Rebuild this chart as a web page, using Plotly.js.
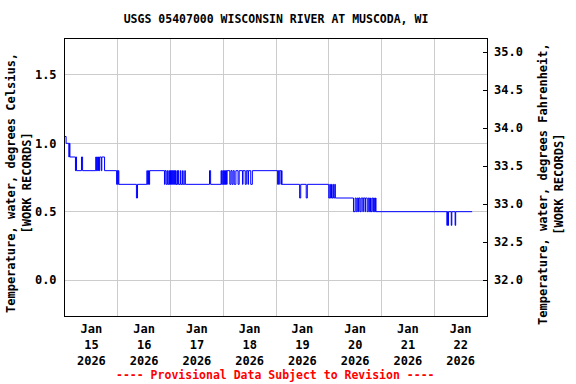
<!DOCTYPE html>
<html>
<head>
<meta charset="utf-8">
<script src="https://cdn.plot.ly/plotly-3.0.1.min.js"></script>
<style>html,body{margin:0;padding:0;background:#fff;}#chart{width:576px;height:384px;}</style>
</head>
<body>
<div id="chart"></div>
<script>
// Time of each change in reading (step series, 15-minute record)
const times = [
'2026-01-15 00:00','2026-01-15 00:30','2026-01-15 01:45','2026-01-15 02:00','2026-01-15 02:15',
'2026-01-15 04:45','2026-01-15 05:00','2026-01-15 05:15','2026-01-15 07:30','2026-01-15 08:00',
'2026-01-15 14:00','2026-01-15 14:15','2026-01-15 14:30','2026-01-15 14:45','2026-01-15 15:15',
'2026-01-15 15:30','2026-01-15 15:45','2026-01-15 16:30','2026-01-15 16:45','2026-01-15 18:00',
'2026-01-15 23:30','2026-01-15 23:45','2026-01-16 00:00','2026-01-16 00:15','2026-01-16 00:30',
'2026-01-16 08:30','2026-01-16 09:00','2026-01-16 13:15','2026-01-16 13:30','2026-01-16 14:00',
'2026-01-16 14:15','2026-01-16 14:30','2026-01-16 21:15','2026-01-16 21:30','2026-01-16 22:00',
'2026-01-16 22:30','2026-01-16 22:45','2026-01-16 23:15','2026-01-16 23:30','2026-01-16 23:45',
'2026-01-17 00:00','2026-01-17 00:15','2026-01-17 00:30','2026-01-17 00:45','2026-01-17 01:00',
'2026-01-17 01:15','2026-01-17 01:30','2026-01-17 01:45','2026-01-17 02:00','2026-01-17 02:15',
'2026-01-17 02:30','2026-01-17 03:00','2026-01-17 03:15','2026-01-17 03:30','2026-01-17 03:45',
'2026-01-17 04:30','2026-01-17 04:45','2026-01-17 05:30','2026-01-17 05:45','2026-01-17 06:30',
'2026-01-17 06:45','2026-01-17 17:45','2026-01-17 18:15','2026-01-17 23:00','2026-01-17 23:15',
'2026-01-17 23:45','2026-01-18 00:00','2026-01-18 00:15','2026-01-18 00:30','2026-01-18 00:45',
'2026-01-18 01:00','2026-01-18 01:15','2026-01-18 01:30','2026-01-18 01:45','2026-01-18 03:00',
'2026-01-18 03:30','2026-01-18 04:00','2026-01-18 04:30','2026-01-18 05:00','2026-01-18 05:45',
'2026-01-18 06:45','2026-01-18 07:15','2026-01-18 08:45','2026-01-18 09:00','2026-01-18 10:00',
'2026-01-18 10:30','2026-01-18 11:15','2026-01-18 11:30','2026-01-18 12:30','2026-01-18 13:15',
'2026-01-19 00:45','2026-01-19 01:00','2026-01-19 01:15','2026-01-19 01:30','2026-01-19 02:15',
'2026-01-19 02:30','2026-01-19 02:45','2026-01-19 10:45','2026-01-19 11:15','2026-01-19 13:45',
'2026-01-19 14:15','2026-01-20 00:00','2026-01-20 00:30','2026-01-20 00:45','2026-01-20 01:15',
'2026-01-20 01:30','2026-01-20 02:00','2026-01-20 02:15','2026-01-20 02:45','2026-01-20 03:00',
'2026-01-20 11:15','2026-01-20 12:00','2026-01-20 12:30','2026-01-20 13:00','2026-01-20 13:30',
'2026-01-20 13:45','2026-01-20 14:15','2026-01-20 14:45','2026-01-20 15:30','2026-01-20 15:45',
'2026-01-20 16:30','2026-01-20 16:45','2026-01-20 17:30','2026-01-20 18:00','2026-01-20 18:30',
'2026-01-20 19:00','2026-01-20 19:15','2026-01-20 19:45','2026-01-20 20:15','2026-01-20 20:30',
'2026-01-20 20:45','2026-01-20 21:15','2026-01-20 21:30','2026-01-22 05:45','2026-01-22 06:00',
'2026-01-22 06:15','2026-01-22 06:30','2026-01-22 07:45','2026-01-22 08:00','2026-01-22 09:30',
'2026-01-22 09:45','2026-01-22 17:15'
];
const tempC = [
1.05,1.0,0.9,1.0,0.9,
0.8,0.9,0.8,0.9,0.8,
0.9,0.8,0.9,0.8,0.9,
0.8,0.9,0.8,0.9,0.8,
0.7,0.8,0.7,0.8,0.7,
0.6,0.7,0.8,0.7,0.8,
0.7,0.8,0.7,0.8,0.7,
0.8,0.7,0.8,0.7,0.8,
0.7,0.8,0.7,0.8,0.7,
0.8,0.7,0.8,0.7,0.8,
0.7,0.8,0.7,0.8,0.7,
0.8,0.7,0.8,0.7,0.8,
0.7,0.8,0.7,0.8,0.7,
0.8,0.7,0.8,0.7,0.8,
0.7,0.8,0.7,0.8,0.7,
0.8,0.7,0.8,0.7,0.8,
0.7,0.8,0.7,0.8,0.7,
0.8,0.7,0.8,0.7,0.8,
0.7,0.8,0.7,0.8,0.7,
0.8,0.7,0.6,0.7,0.6,
0.7,0.6,0.7,0.6,0.7,
0.6,0.7,0.6,0.7,0.6,
0.5,0.6,0.5,0.6,0.5,
0.6,0.5,0.6,0.5,0.6,
0.5,0.6,0.5,0.6,0.5,
0.6,0.5,0.6,0.5,0.6,
0.5,0.6,0.5,0.4,0.5,
0.4,0.5,0.4,0.5,0.4,
0.5,0.5
];
const dayTicks = ['2026-01-15 12:00','2026-01-16 12:00','2026-01-17 12:00','2026-01-18 12:00',
                  '2026-01-19 12:00','2026-01-20 12:00','2026-01-21 12:00','2026-01-22 12:00'];
const dayLabels = ['Jan<br>15<br>2026','Jan<br>16<br>2026','Jan<br>17<br>2026','Jan<br>18<br>2026',
                   'Jan<br>19<br>2026','Jan<br>20<br>2026','Jan<br>21<br>2026','Jan<br>22<br>2026'];
const celsiusTicks = [0.0, 0.5, 1.0, 1.5];
const fahrenheitTicks = [32.0, 32.5, 33.0, 33.5, 34.0, 34.5, 35.0];

const chartTitle = 'USGS 05407000 WISCONSIN RIVER AT MUSCODA, WI';
const leftTitle = 'Temperature, water, degrees Celsius,<br>[WORK RECORDS]';
const rightTitle = 'Temperature, water, degrees Fahrenheit,<br>[WORK RECORDS]';
const footer = '---- Provisional Data Subject to Revision ----';

const FONT = 'DejaVu Sans Mono, monospace';
const cRange = [-0.263, 1.763];
const fRange = cRange.map(c => c * 1.8 + 32);

const trace = {
  x: times, y: tempC, type: 'scatter', mode: 'lines',
  line: {color: '#0000ff', width: 1, shape: 'hv'},
  hoverinfo: 'skip', showlegend: false
};

const layout = {
  width: 576, height: 384,
  margin: {l: 65, r: 89, t: 39, b: 68, pad: 0},
  paper_bgcolor: '#fff', plot_bgcolor: '#fff',
  font: {family: FONT, size: 12, color: '#000', weight: 'bold'},
  title: {text: chartTitle, font: {family: FONT, size: 11.5, color: '#000', weight: 'bold'},
          xref: 'paper', x: 0.5, xanchor: 'center', yref: 'container', y: 1 - 19/384, yanchor: 'middle'},
  showlegend: false,
  xaxis: {
    type: 'date', range: ['2026-01-15 00:00', '2026-01-23 00:00'],
    tickmode: 'array', tickvals: dayTicks, ticktext: dayLabels,
    ticks: '', showgrid: false, zeroline: false, ticklabelstandoff: 2,
    showline: true, linecolor: '#000', linewidth: 1, mirror: true,
    tickfont: {family: FONT, size: 12, color: '#000', weight: 'bold'},
    minor: {tickmode: 'linear', tick0: '2026-01-15', dtick: 86400000, showgrid: true,
            gridcolor: '#cccccc', gridwidth: 1, ticks: ''}
  },
  yaxis: {
    range: cRange, tickmode: 'array', tickvals: celsiusTicks, tickformat: '.1f',
    ticks: '', showgrid: true, gridcolor: '#cccccc', gridwidth: 1, zeroline: false,
    ticklabelstandoff: 5,
    showline: true, linecolor: '#000', linewidth: 1, mirror: true,
    tickfont: {family: FONT, size: 12, color: '#000', weight: 'bold'}
  },
  yaxis2: {
    overlaying: 'y', side: 'right', anchor: 'x',
    range: fRange, tickmode: 'array', tickvals: fahrenheitTicks, tickformat: '.1f',
    ticks: 'inside', ticklen: 4, tickcolor: '#000', showgrid: false, zeroline: false, showline: false,
    ticklabelstandoff: 6,
    tickfont: {family: FONT, size: 12, color: '#000', weight: 'bold'}
  },
  annotations: [
    {text: leftTitle, xref: 'paper', yref: 'paper', x: (19 - 65) / 422, y: (316 - 183) / 277,
     xanchor: 'center', yanchor: 'middle', textangle: -90, showarrow: false,
     font: {family: FONT, size: 12, color: '#000', weight: 'bold'}},
    {text: rightTitle, xref: 'paper', yref: 'paper', x: (551 - 65) / 422, y: (316 - 184) / 277,
     xanchor: 'center', yanchor: 'middle', textangle: -90, showarrow: false,
     font: {family: FONT, size: 12, color: '#000', weight: 'bold'}},
    {text: footer, xref: 'paper', yref: 'paper', x: (275 - 65) / 422, y: (316 - 375) / 277,
     xanchor: 'center', yanchor: 'middle', showarrow: false,
     font: {family: FONT, size: 11.5, color: '#ff0000', weight: 'bold'}}
  ]
};

const trace2 = {x: [], y: [], yaxis: 'y2', type: 'scatter', mode: 'lines', showlegend: false, hoverinfo: 'skip'};

Plotly.newPlot('chart', [trace, trace2], layout, {staticPlot: true, displayModeBar: false});
</script>
</body>
</html>
